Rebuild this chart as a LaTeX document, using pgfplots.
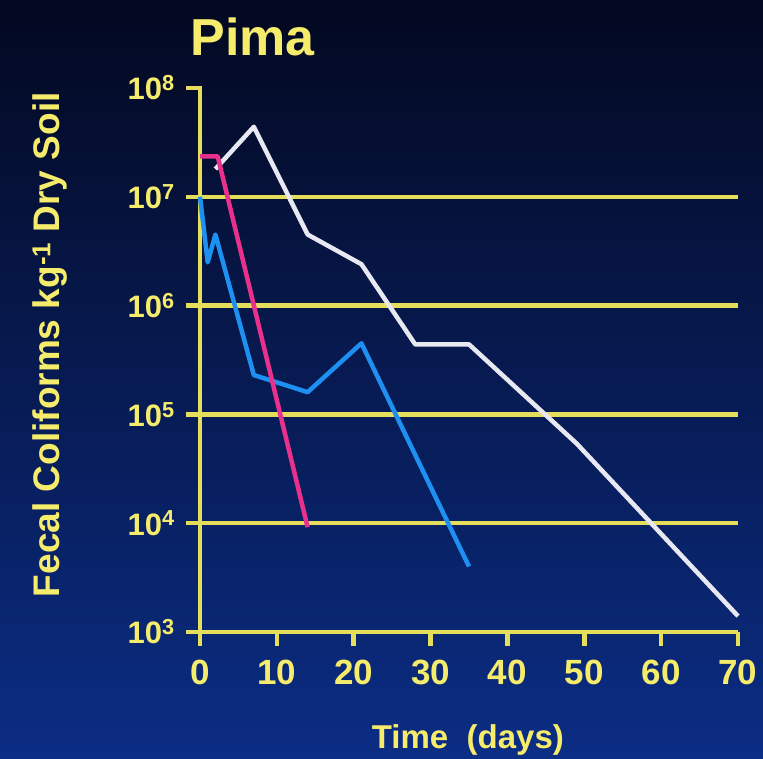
\documentclass[border=0pt]{standalone}
\usepackage{fontspec}
\setmainfont{Liberation Sans}
\usepackage{pgfplots}
\pgfplotsset{compat=1.18}
\definecolor{bgtop}{HTML}{030820}
\definecolor{bgbot}{HTML}{0B2D84}
\definecolor{ylw}{HTML}{E4DE5A}
\definecolor{txt}{HTML}{F6EC6C}
\definecolor{wht}{HTML}{E8E8F2}
\definecolor{blu}{HTML}{1E90F2}
\definecolor{pnk}{HTML}{E8308C}
\begin{document}
\begin{tikzpicture}
\shade[top color=bgtop, bottom color=bgbot] (-200pt,-127pt) rectangle (563pt,632pt);
\path[use as bounding box] (-200pt,-127pt) rectangle (563pt,632pt);
\begin{axis}[
  at={(-13.8pt,-14pt)}, anchor=south west,
  scale only axis, width=551.8pt, height=558pt,
  ymode=log, xmin=-1.8, xmax=70, ymin=743.5, ymax=1e8,
  axis x line*=bottom, axis y line*=left,
  axis line style={draw=none},
  xtick={0,10,...,70},
  xticklabels={0,10,20,30,40,50,60,70},
  ytick={1e3,1e4,1e5,1e6,1e7,1e8},
  yticklabels={10\textsuperscript{3},10\textsuperscript{4},10\textsuperscript{5},10\textsuperscript{6},10\textsuperscript{7},10\textsuperscript{8}},
  yminorticks=false, xminorticks=false,
  major tick length=0pt,
  xticklabel style={font=\fontsize{35}{40}\selectfont\bfseries, text=txt, yshift=-11pt},
  yticklabel style={font=\fontsize{31}{36}\selectfont\bfseries, text=txt, xshift=-8pt},
  title={Pima},
  title style={at={(axis description cs:0.0016,1.081)}, anchor=west, font=\fontsize{52}{60}\selectfont\bfseries, text=txt},
  xlabel={Time\ \ (days)},
  xlabel style={at={(axis description cs:0.5105,-0.169)}, anchor=center, font=\fontsize{33}{40}\selectfont\bfseries, text=txt},
  ylabel={Fecal Coliforms kg\textsuperscript{-1} Dry Soil},
  ylabel style={at={(axis description cs:-0.247,0.540)}, anchor=center, rotate=0, font=\fontsize{37}{44}\selectfont\bfseries, text=txt},
  clip=false,
]
% axis frame, horizontal grid lines and outward ticks (drawn as data)
\addplot[ylw, line width=4.5pt, line join=miter, forget plot] coordinates {(-1.8,1e8) (0,1e8) (0,743.5)};
\addplot[ylw, line width=4.5pt, forget plot] coordinates {(-1.8,1e3) (70,1e3)};
\addplot[ylw, line width=4.5pt, forget plot] coordinates {(-1.8,1e4) (70,1e4)};
\addplot[ylw, line width=4.5pt, forget plot] coordinates {(-1.8,1e5) (70,1e5)};
\addplot[ylw, line width=4.5pt, forget plot] coordinates {(-1.8,1e6) (70,1e6)};
\addplot[ylw, line width=4.5pt, forget plot] coordinates {(-1.8,1e7) (70,1e7)};
\addplot[ylw, line width=4.5pt, forget plot] coordinates {(10,1e3) (10,743.5)};
\addplot[ylw, line width=4.5pt, forget plot] coordinates {(20,1e3) (20,743.5)};
\addplot[ylw, line width=4.5pt, forget plot] coordinates {(30,1e3) (30,743.5)};
\addplot[ylw, line width=4.5pt, forget plot] coordinates {(40,1e3) (40,743.5)};
\addplot[ylw, line width=4.5pt, forget plot] coordinates {(50,1e3) (50,743.5)};
\addplot[ylw, line width=4.5pt, forget plot] coordinates {(60,1e3) (60,743.5)};
\addplot[ylw, line width=4.5pt, forget plot] coordinates {(70,1e3) (70,743.5)};
% data
\addplot[wht, line width=4.5pt, line join=round] coordinates {
  (2,1.8e7) (7,4.4e7) (14,4.5e6) (21,2.4e6) (28,4.4e5) (35,4.4e5) (49,5.4e4) (70,1.4e3)};
\addplot[blu, line width=4.5pt, line join=round] coordinates {
  (0,1e7) (1,2.5e6) (2,4.5e6) (7,2.3e5) (14,1.6e5) (21,4.5e5) (35,4e3)};
\addplot[pnk, line width=4.5pt, line join=round] coordinates {
  (0,2.35e7) (2.3,2.35e7) (14,9.2e3)};
\end{axis}
\end{tikzpicture}
\end{document}
